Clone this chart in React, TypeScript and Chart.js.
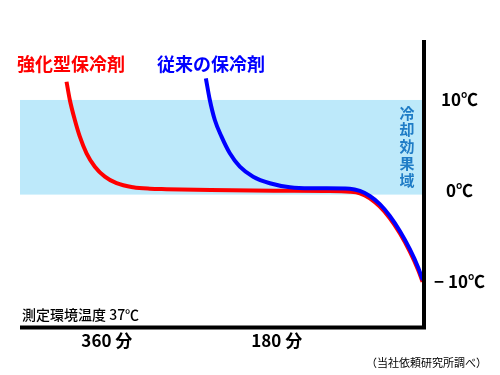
import React, { useEffect, useRef } from "react";
import { Chart, registerables } from "chart.js";

Chart.register(...registerables);

// Data (x = minutes, shown decreasing to the right; y = temperature ℃)
const redMinutes = [402.7, 399.2, 393.9, 388.6, 381.5, 372.7, 362.1, 349.7, 332.1, 314.4, 296.8, 250, 180, 130, 102.6, 92, 81.4, 70.8, 60.2, 49.6, 39, 30.2, 25.5];
const redTemps = [12.0, 10.0, 7.8, 5.97, 4.14, 2.67, 1.57, 0.85, 0.41, 0.25, 0.2, 0.1, 0.03, 0.0, -0.08, -0.25, -0.8, -1.73, -3.0, -4.65, -6.67, -8.68, -9.97];
const blueMinutes = [255.1, 250.9, 245.6, 238.5, 229.7, 219.1, 205, 187.3, 166.1, 144.9, 127.2, 102.6, 92, 81.4, 70.8, 60.2, 49.6, 39, 30.2, 25.3];
const blueTemps = [12.38, 10.0, 7.8, 5.97, 4.14, 2.67, 1.57, 0.85, 0.41, 0.3, 0.3, 0.25, 0.0, -0.55, -1.45, -2.75, -4.4, -6.4, -8.4, -9.8];
const seriesNames = ["強化型保冷剤", "従来の保冷剤"];
const xTickValues = [360, 180];
const yTickValues = [10, 0, -10];
const yTickLabels = ["10℃", "0℃", "− 10℃"];
const bandRange = [-0.4, 10];
const bandLabel = "冷却効果域";
const noteLeft = "測定環境温度 37℃";
const noteRight = "（当社依頼研究所調べ）";

const FONT = "'Noto Sans CJK JP', 'Noto Sans', sans-serif";

const decorPlugin = {
  id: "decor",
  beforeDatasetsDraw(chart: any) {
    const { ctx, chartArea, scales } = chart;
    const y = scales.y;
    const top = y.getPixelForValue(bandRange[1]);
    const bot = y.getPixelForValue(bandRange[0]);
    ctx.save();
    ctx.fillStyle = "#bde9fa";
    ctx.fillRect(chartArea.left, top, chartArea.right - chartArea.left - 2, bot - top);
    // vertical band label
    ctx.fillStyle = "#1f7cc6";
    ctx.font = `bold 15px ${FONT}`;
    ctx.textAlign = "center";
    ctx.textBaseline = "middle";
    const chars = Array.from(bandLabel);
    chars.forEach((c, i) => {
      ctx.fillText(c, chartArea.right - 17, top + 13 + i * 16.8);
    });
    ctx.restore();
  },
  afterDraw(chart: any) {
    const { ctx, chartArea } = chart;
    ctx.save();
    // axis lines
    ctx.strokeStyle = "#000";
    ctx.lineWidth = 4;
    ctx.beginPath();
    ctx.moveTo(chartArea.left, chartArea.bottom + 1.5);
    ctx.lineTo(chartArea.right + 2, chartArea.bottom + 1.5);
    ctx.moveTo(chartArea.right, chartArea.top);
    ctx.lineTo(chartArea.right, chartArea.bottom + 3.5);
    ctx.stroke();
    // series labels
    ctx.font = `bold 18px ${FONT}`;
    ctx.textAlign = "left";
    ctx.textBaseline = "middle";
    ctx.fillStyle = "#ff0000";
    ctx.fillText(seriesNames[0], 17, 64);
    ctx.fillStyle = "#0000ff";
    ctx.fillText(seriesNames[1], 157, 64);
    // notes
    ctx.fillStyle = "#000";
    ctx.font = `500 14px ${FONT}`;
    ctx.fillText(noteLeft, 22, 315);
    ctx.font = `11px ${FONT}`;
    ctx.textAlign = "right";
    ctx.fillText(noteRight, 487, 363);
    ctx.restore();
  },
};

export default function App() {
  const ref = useRef<HTMLCanvasElement | null>(null);
  useEffect(() => {
    if (!ref.current) return;
    const chart = new Chart(ref.current, {
      type: "line",
      data: {
        datasets: [
          {
            label: seriesNames[1],
            data: blueMinutes.map((m, i) => ({ x: m, y: blueTemps[i] })),
            borderColor: "#0000ff",
            borderWidth: 4,
            pointRadius: 0,
            cubicInterpolationMode: "monotone",
            fill: false,
          },
          {
            label: seriesNames[0],
            data: redMinutes.map((m, i) => ({ x: m, y: redTemps[i] })),
            borderColor: "#ff0000",
            borderWidth: 4,
            pointRadius: 0,
            cubicInterpolationMode: "monotone",
            fill: false,
          },
        ],
      },
      options: {
        animation: false,
        responsive: false,
        maintainAspectRatio: false,
        layout: { padding: { left: 20, top: 40, right: 0, bottom: 0 } },
        plugins: { legend: { display: false }, tooltip: { enabled: false } },
        scales: {
          x: {
            type: "linear",
            reverse: true,
            min: 24,
            max: 452,
            grid: { display: false, drawTicks: false },
            border: { display: false },
            afterBuildTicks: (axis: any) => {
              axis.ticks = xTickValues.map((v) => ({ value: v }));
            },
            afterFit: (axis: any) => {
              axis.height = 49;
            },
            ticks: {
              padding: 4,
              color: "#000",
              font: { family: FONT, size: 17, weight: "bold" },
              callback: (v: any) => `${v} 分`,
              maxRotation: 0,
              autoSkip: false,
            },
          },
          y: {
            type: "linear",
            position: "right",
            min: -14.84,
            max: 16.59,
            grid: { display: false, drawTicks: false },
            border: { display: false },
            afterBuildTicks: (axis: any) => {
              axis.ticks = yTickValues.map((v) => ({ value: v }));
            },
            afterFit: (axis: any) => {
              axis.width = 76;
            },
            ticks: {
              padding: 10,
              crossAlign: "center",
              color: "#000",
              font: { family: FONT, size: 17, weight: "bold" },
              callback: (v: any) => {
                const i = yTickValues.indexOf(v);
                return i >= 0 ? yTickLabels[i] : "";
              },
              autoSkip: false,
            },
          },
        },
      },
      plugins: [decorPlugin],
    } as any);
    return () => chart.destroy();
  }, []);
  return (
    <div style={{ position: "absolute", left: 0, top: 0, width: 500, height: 375, background: "#fff" }}>
      <canvas ref={ref} width={500} height={375} style={{ display: "block" }} />
    </div>
  );
}
